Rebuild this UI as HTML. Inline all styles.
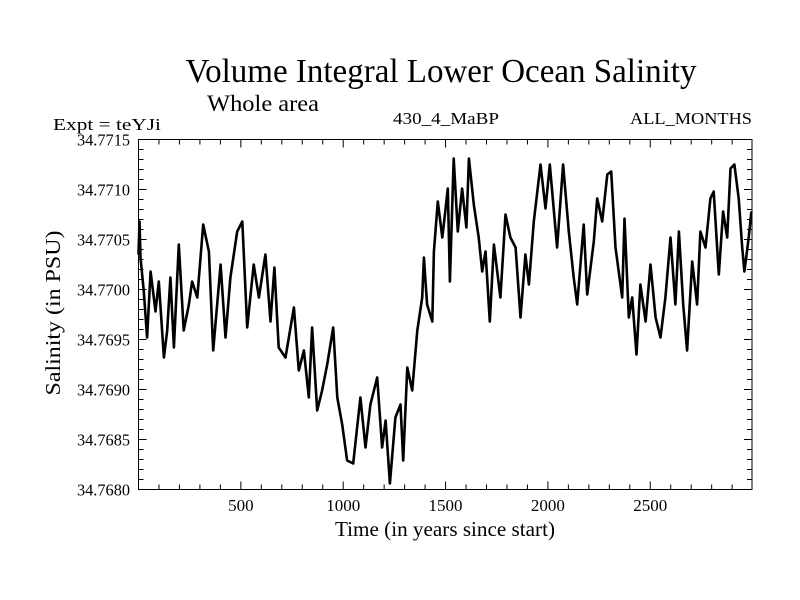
<!DOCTYPE html>
<html><head><meta charset="utf-8"><style>
body{margin:0;background:#fff}
svg{display:block;font-family:"Liberation Serif",serif}
</style></head><body>
<svg id="chart" width="800" height="600">
<text x="441" y="82" font-size="34" text-anchor="middle" textLength="511" lengthAdjust="spacingAndGlyphs">Volume Integral Lower Ocean Salinity</text>
<text x="207" y="111" font-size="23" textLength="112" lengthAdjust="spacingAndGlyphs">Whole area</text>
<text x="53" y="130" font-size="17" textLength="108" lengthAdjust="spacingAndGlyphs">Expt = teYJi</text>
<text x="446" y="124" font-size="17" text-anchor="middle" textLength="106" lengthAdjust="spacingAndGlyphs">430_4_MaBP</text>
<text x="752" y="124" font-size="17" text-anchor="end" textLength="122" lengthAdjust="spacingAndGlyphs">ALL_MONTHS</text>
<text x="60" y="313" font-size="21" text-anchor="middle" transform="rotate(-90 60 313)" textLength="165" lengthAdjust="spacingAndGlyphs">Salinity (in PSU)</text>
<text x="445" y="536" font-size="21" text-anchor="middle" textLength="220" lengthAdjust="spacingAndGlyphs">Time (in years since start)</text>
<g id="ticks"></g>
<path id="series" fill="none" stroke="#000" stroke-width="2.6" stroke-linejoin="round"></path>
<rect x="138.5" y="139.5" width="613.5" height="350" fill="none" stroke="#000" stroke-width="1"/>
</svg>
<script>
const years=[0,5,10,26,42,59,83,99,124,140,156,173,197,221,246,262,287,316,344,365,401,425,449,482,507,531,563,588,620,645,664,685,718,759,783,808,832,848,873,897,922,951,971,995,1019,1049,1084,1109,1133,1166,1190,1207,1228,1255,1280,1293,1313,1337,1362,1386,1394,1410,1435,1443,1462,1484,1500,1511,1521,1540,1560,1581,1602,1614,1638,1662,1679,1695,1716,1736,1768,1793,1817,1842,1866,1890,1907,1931,1964,1988,2009,2045,2074,2102,2126,2143,2175,2192,2224,2241,2265,2290,2309,2330,2363,2374,2395,2412,2433,2452,2477,2501,2526,2550,2574,2599,2623,2640,2661,2680,2705,2729,2745,2770,2794,2810,2835,2856,2876,2892,2911,2932,2949,2960,2981,2994];
const salinity=[34.77035,34.77068,34.77032,34.76998,34.76952,34.77018,34.76978,34.77008,34.76932,34.76959,34.77012,34.76942,34.77045,34.76959,34.76985,34.77008,34.76992,34.77065,34.77038,34.76939,34.77025,34.76952,34.77012,34.77058,34.77068,34.76962,34.77025,34.76992,34.77035,34.76968,34.77022,34.76942,34.76932,34.76982,34.76919,34.76939,34.76892,34.76962,34.76879,34.76899,34.76925,34.76962,34.76892,34.76865,34.76829,34.76826,34.76892,34.76842,34.76885,34.76912,34.76842,34.76869,34.76806,34.76872,34.76885,34.76829,34.76922,34.76899,34.76959,34.76992,34.77032,34.76985,34.76968,34.77038,34.77088,34.77052,34.77081,34.77101,34.77008,34.77131,34.77058,34.77101,34.77062,34.77131,34.77085,34.77052,34.77018,34.77038,34.76968,34.77045,34.76992,34.77075,34.77052,34.77042,34.76972,34.77035,34.77005,34.77068,34.77125,34.77081,34.77125,34.77042,34.77125,34.77058,34.77012,34.76985,34.77065,34.76995,34.77048,34.77091,34.77068,34.77115,34.77118,34.77042,34.76992,34.77071,34.76972,34.76992,34.76935,34.77005,34.76968,34.77025,34.76972,34.76952,34.76992,34.77052,34.76985,34.77058,34.76985,34.76939,34.77028,34.76985,34.77058,34.77042,34.77091,34.77098,34.77015,34.77078,34.77052,34.77121,34.77125,34.77091,34.77042,34.77018,34.77052,34.77078];
const xTickLabels=[500,1000,1500,2000,2500];
const yTickLabels=["34.7680","34.7685","34.7690","34.7695","34.7700","34.7705","34.7710","34.7715"];
const X0=138.5,X1=752,Y0=489.5,Y1=139.5,XMIN=0,XMAX=2997,YMIN=34.768,YMAX=34.7715;
function sx(v){return X0+(v-XMIN)/(XMAX-XMIN)*(X1-X0);}
function sy(v){return Y0-(v-YMIN)/(YMAX-YMIN)*(Y0-Y1);}
const NS="http://www.w3.org/2000/svg";
const g=document.getElementById('ticks');
function line(x1,y1,x2,y2,name){const l=document.createElementNS(NS,'line');l.setAttribute('x1',x1);l.setAttribute('y1',y1);l.setAttribute('x2',x2);l.setAttribute('y2',y2);l.setAttribute('stroke','#000');


g.appendChild(l);}
function text(x,y,s,anchor,name,len){const t=document.createElementNS(NS,'text');t.setAttribute('x',x);t.setAttribute('y',y);t.setAttribute('font-size','17');t.setAttribute('text-anchor',anchor);if(len){t.setAttribute('textLength',len);t.setAttribute('lengthAdjust','spacingAndGlyphs');}t.textContent=s;


g.appendChild(t);}
for(let yr=100;yr<XMAX;yr+=100){const x=sx(yr);const big=yr%500===0;const L=big?8:5;line(x,Y0,x,Y0-L,'x-tick');line(x,Y1,x,Y1+L,'x-tick');}
xTickLabels.forEach(v=>text(sx(v),511,String(v),'middle','x-tick-label',String(v).length*8.5));
for(let i=0;i<=35;i++){const v=YMIN+i*0.0001;const y=sy(v);const big=i%5===0;const L=big?8:5;line(X0,y,X0+L,y,'y-tick');line(X1,y,X1-L,y,'y-tick');}
yTickLabels.forEach(s=>text(130,sy(parseFloat(s))+6,s,'end','y-tick-label',53));
let d='';years.forEach((yr,i)=>{d+=(i?'L':'M')+sx(yr).toFixed(1)+' '+sy(salinity[i]).toFixed(1);});
document.getElementById('series').setAttribute('d',d);
</script>
</body></html>
